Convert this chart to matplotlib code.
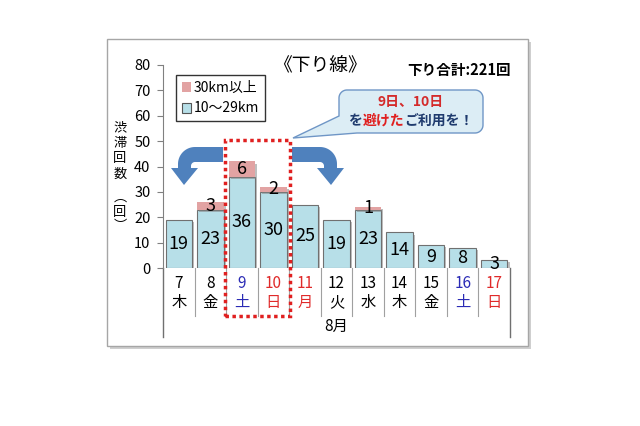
import numpy as np
import matplotlib
matplotlib.use("Agg")
import matplotlib.pyplot as plt
from matplotlib.patches import Rectangle, Polygon, Patch
import matplotlib.patheffects as pe

plt.rcParams['font.family'] = ['Noto Sans CJK JP', 'DejaVu Sans']

# data
days = ['7', '8', '9', '10', '11', '12', '13', '14', '15', '16', '17']
weekdays = ['木', '金', '土', '日', '月', '火', '水', '木', '金', '土', '日']
short_jams = [19, 23, 36, 30, 25, 19, 23, 14, 9, 8, 3]   # 10~29km
long_jams = [0, 3, 6, 2, 0, 0, 1, 0, 0, 0, 0]             # 30km以上
total = 221

# label colours per day (Sat blue, Sun/holiday red)
day_colors = ['black', 'black', '#2b2bb5', '#e02a2a', '#e02a2a', 'black',
              'black', 'black', 'black', '#2b2bb5', '#e02a2a']

blue_c = '#b7dfe8'
pink_c = '#e2a3a3'
arrow_c = '#4f81bd'

W, H = 640, 426


def px(x, y):
    return (x / W, 1 - y / H)


fig = plt.figure(figsize=(6.4, 4.26), dpi=100)

# outer panel with shadow
panel = Rectangle(px(107, 346), 421 / W, 307 / H, transform=fig.transFigure,
                  facecolor='white', edgecolor='#a6a6a6', lw=1, zorder=-1,
                  path_effects=[pe.SimplePatchShadow(offset=(2.5, -2.5), shadow_rgbFace='#a0a0a0', alpha=0.5),
                                pe.Normal()])
fig.add_artist(panel)

ax = fig.add_axes([163 / W, 1 - 268 / H, 347 / W, 203 / H])
ax.patch.set_alpha(0)

x = np.arange(len(days))
lower = np.array(short_jams)
upper = np.array(long_jams)

shadow = [pe.SimplePatchShadow(offset=(1.5, -1.5), shadow_rgbFace='#808080', alpha=0.5), pe.Normal()]
b1 = ax.bar(x, lower, width=0.84, color=blue_c, edgecolor='#707070', lw=0.8, zorder=2)
b2 = ax.bar(x, upper, bottom=lower, width=0.84, color=pink_c, edgecolor='none', zorder=2)
for b in list(b1) + list(b2):
    b.set_path_effects(shadow)

for i in range(len(days)):
    ax.text(x[i], lower[i] / 2, str(lower[i]), ha='center', va='center',
            fontsize=13, zorder=4)
    if upper[i] > 0:
        ax.text(x[i], lower[i] + upper[i] / 2, str(upper[i]), ha='center',
                va='center', fontsize=13, zorder=4)

ax.set_xlim(-0.5, len(days) - 0.5)
ax.set_ylim(0, 80)
ax.set_yticks(np.arange(0, 81, 10))
ax.tick_params(axis='y', direction='out', length=4, color='#808080',
               labelsize=10.5, pad=5)
ax.set_xticks([])
for s in ['top', 'right', 'bottom']:
    ax.spines[s].set_visible(False)
ax.spines['left'].set_color('#808080')

# category labels and separators
tr = ax.get_xaxis_transform()
for i in range(len(days)):
    ax.text(x[i], -0.075, days[i], transform=tr, ha='center', va='center',
            fontsize=11, color=day_colors[i], clip_on=False)
    ax.text(x[i], -0.17, weekdays[i], transform=tr, ha='center', va='center',
            fontsize=11, color=day_colors[i], clip_on=False)
for k in range(1, len(days)):
    ax.plot([k - 0.5, k - 0.5], [0, -0.235], transform=tr, color='#a0a0a0',
            lw=0.8, clip_on=False)
for k in [-0.5, len(days) - 0.5]:
    ax.plot([k, k], [0, -0.34], transform=tr, color='#707070', lw=1,
            clip_on=False)
ax.text(np.mean(x), -0.29, '8月', transform=tr, ha='center', va='center',
        fontsize=11, clip_on=False)

# y label, stacked vertically (one glyph per line, like the original)
ylab_chars = ['渋', '滞', '回', '数', '︵', '回', '︶']
ylab_y = [126, 141.5, 157, 172.5, 196, 211, 225]
for c, yy in zip(ylab_chars, ylab_y):
    fig.text(*px(120, yy), c, ha='center', va='center_baseline', fontsize=9.5,
             linespacing=1.0)

# titles
fig.text(*px(320, 66), '《下り線》', ha='center', va='center', fontsize=13.5)
fig.text(*px(459, 70), f'下り合計:{total}回', ha='center', va='center',
         fontsize=10.5, fontweight='bold')

# legend
handles = [Patch(facecolor=pink_c, edgecolor='none'),
           Patch(facecolor=blue_c, edgecolor='#555555', lw=0.8)]
leg = ax.legend(handles, ['30km以上', '10〜29km'], loc='upper left',
                bbox_to_anchor=px(176, 75), bbox_transform=fig.transFigure,
                fontsize=10, frameon=True, fancybox=False, edgecolor='black',
                handlelength=0.7, handleheight=0.7, handletextpad=0.2,
                labelspacing=0.5, borderpad=0.4, borderaxespad=0)
leg.get_frame().set_linewidth(1)
leg.set_zorder(6)


# curved blue arrows
def arc(cx, cy, r, a0, a1, n=20):
    t = np.radians(np.linspace(a0, a1, n))
    return [(cx + r * np.cos(t_), cy + r * np.sin(t_)) for t_ in t]


right_pts = [(292, 147), (320, 147)]
right_pts += arc(320, 164, 17, -90, 0)
right_pts += [(337, 168), (344, 168), (331, 185), (317, 168), (324, 168), (324, 166)]
right_pts += arc(320, 166, 4, 0, -90)
right_pts += [(292, 162)]
left_pts = [(515 - a, b) for a, b in right_pts]
for pts in [right_pts, left_pts]:
    poly = Polygon([px(a, b) for a, b in pts], closed=True,
                   transform=fig.transFigure, facecolor=arrow_c,
                   edgecolor='none', zorder=3)
    fig.add_artist(poly)

# callout bubble
bx0, by0, bx1, by1, r = 339, 90, 483, 133, 8
verts = [(bx0 + r, by0), (bx1 - r, by0)]
verts += arc(bx1 - r, by0 + r, r, -90, 0)
verts += [(bx1, by1 - r)]
verts += arc(bx1 - r, by1 - r, r, 0, 90)
verts += [(357, by1), (293, 138), (bx0, 116), (bx0, by0 + r)]
verts += arc(bx0 + r, by0 + r, r, 180, 270)
bubble = Polygon([px(a, b) for a, b in verts], closed=True,
                 transform=fig.transFigure, facecolor='#dcedf5',
                 edgecolor='#6f96c6', lw=1, zorder=3)
fig.add_artist(bubble)
fig.text(*px(411, 102), '9日、10日', ha='center', va='center', fontsize=10,
         fontweight='bold', color='#d42a2a', zorder=4)

# second line: full-width glyphs, so each one is 1 em wide
fs = 10
em = fs * 100 / 72
parts = [('を', '#1f3b6e'), ('避けた', '#e02020'), ('ご利用を！', '#1f3b6e')]
n_chars = sum(len(s) for s, _ in parts)
xpos = 411 - n_chars * em / 2
for s, c in parts:
    fig.text(*px(xpos, 121), s, ha='left', va='center', fontsize=fs,
             fontweight='bold', color=c, zorder=4)
    xpos += len(s) * em

# red dotted box around 9 and 10
box = Rectangle(px(225, 316), 65 / W, 176 / H, transform=fig.transFigure,
                facecolor='none', edgecolor='#e02020', lw=2.5,
                linestyle=(0, (1, 1)), zorder=5)
fig.add_artist(box)

fig.savefig('out.png', dpi=100)
